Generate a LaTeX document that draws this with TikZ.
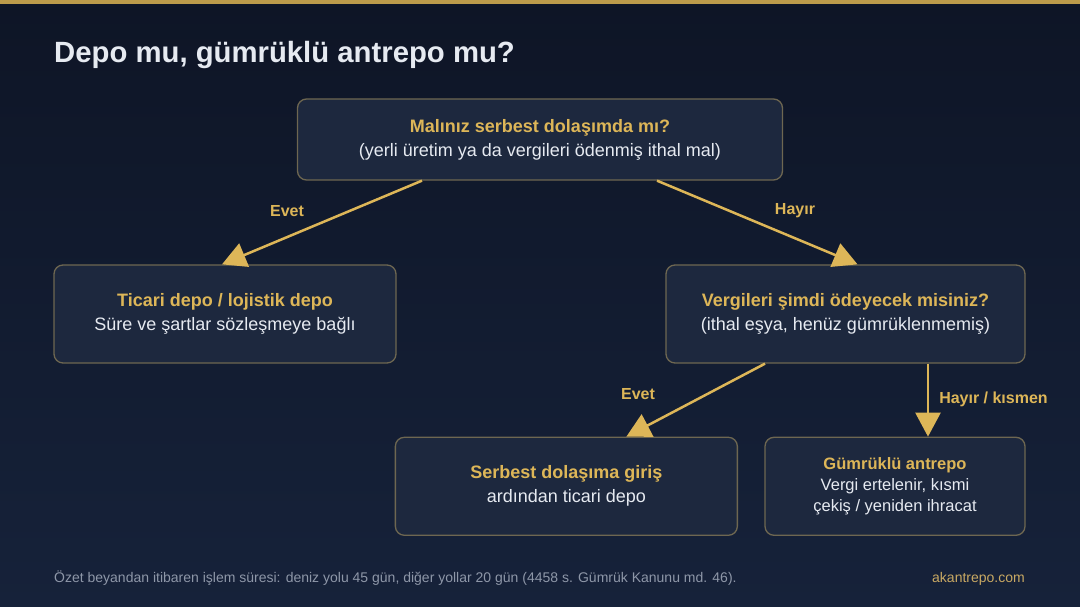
\documentclass[tikz,border=0pt]{standalone}
\usepackage{fontspec}
\setmainfont{Liberation Sans}
\usetikzlibrary{positioning,arrows.meta}

\definecolor{bgtop}{HTML}{0E1526}
\definecolor{bgbot}{HTML}{16223A}
\definecolor{boxfill}{HTML}{1D283E}
\definecolor{boxline}{HTML}{6E6751}
\definecolor{gold}{HTML}{DDB658}
\definecolor{textwhite}{HTML}{E6EAF1}
\definecolor{footgray}{HTML}{8E97A8}
\definecolor{linkgold}{HTML}{C9A963}

\tikzset{
    box/.style={rectangle, rounded corners=9pt, draw=boxline, line width=1.3pt, fill=boxfill, align=center, text=textwhite, inner sep=0pt, font=\fontsize{18}{24}\selectfont},
    flow/.style={-{Triangle[width=25pt,length=24pt]}, line width=2.5pt, draw=gold},
    answer/.style={text=gold, font=\bfseries\fontsize{16}{18}\selectfont, inner sep=0pt},
}
\newcommand{\headline}[1]{\textcolor{gold}{\bfseries #1}}

\begin{document}
\begin{tikzpicture}[x=1pt, y=-1pt]
    \useasboundingbox (0,0) rectangle (1080,607);
    \shade[top color=bgtop, bottom color=bgbot] (0,0) rectangle (1080,607);
    \fill[gold!85!black] (0,0) rectangle (1080,4);

    \node (title) [anchor=base west, inner sep=0pt, text=textwhite, font=\bfseries\fontsize{29.3}{32}\selectfont] at (54,63) {Depo mu, gümrüklü antrepo mu?};

    \node (free) [box, minimum width=485pt, minimum height=81pt] at (540,139.5) {
        \headline{Malınız serbest dolaşımda mı?} \\ (yerli üretim ya da vergileri ödenmiş ithal mal)
    };
    \node (trade) [box, minimum width=342pt, minimum height=98pt] at (225,314) {
        \headline{Ticari depo / lojistik depo} \\ Süre ve şartlar sözleşmeye bağlı
    };
    \node (taxes) [box, minimum width=359pt, minimum height=98pt] at (845.5,314) {
        \headline{Vergileri şimdi ödeyecek misiniz?} \\ (ithal eşya, henüz gümrüklenmemiş)
    };
    \node (release) [box, minimum width=342pt, minimum height=98pt, below=73pt of taxes.south west, anchor=north, xshift=-99pt] {
        \headline{Serbest dolaşıma giriş} \\ ardından ticari depo
    };
    \node (bonded) [box, minimum width=260pt, minimum height=98pt, below=73pt of taxes.south east, anchor=north east, font=\fontsize{16.5}{21}\selectfont] {
        \headline{Gümrüklü antrepo} \\ Vergi ertelenir, kısmi \\ çekiş / yeniden ihracat
    };

    \node (yes1) [answer] at (287,211) {Evet};
    \node (no1) [answer] at (795,211) {Hayır};
    \node (yes2) [answer] at (638,394) {Evet};
    \node (no2) [answer] at (993.5,399) {Hayır / kısmen};

    \draw[flow] ([xshift=-118pt]free.south) -- ([xshift=-3pt]trade.north);
    \draw[flow] ([xshift=117pt]free.south) -- ([xshift=12pt]taxes.north);
    \draw[flow] ([xshift=-80.5pt]taxes.south) -- ([xshift=60pt]release.north);
    \draw[flow] ([xshift=82.5pt]taxes.south) -- ([xshift=33pt]bonded.north);

    \node (source) [anchor=base west, inner sep=0pt, text=footgray, font=\fontsize{14}{16}\selectfont] at (54,582) {Özet beyandan itibaren işlem süresi: deniz yolu 45 gün, diğer yollar 20 gün (4458 s. Gümrük Kanunu md. 46).};
    \node (site) [anchor=base east, inner sep=0pt, text=linkgold, font=\fontsize{14}{16}\selectfont] at (1025,582) {akantrepo.com};
\end{tikzpicture}
\end{document}
